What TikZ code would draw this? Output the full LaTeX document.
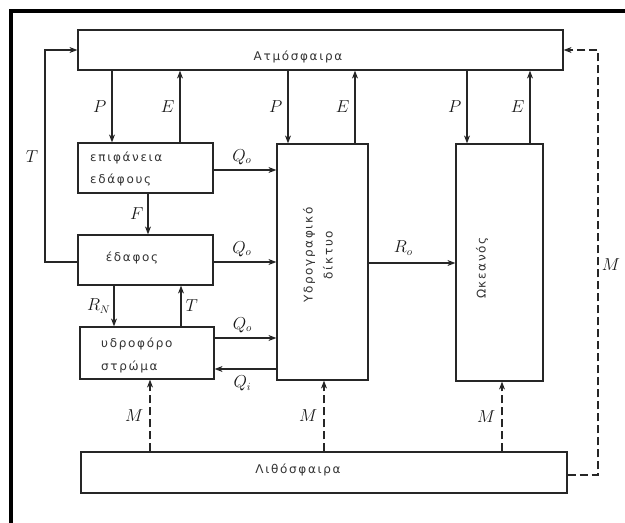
\documentclass[tikz,border=0pt]{standalone}
\usepackage{fontspec}
\usetikzlibrary{arrows.meta,calc}
\newfontfamily\grfont[LetterSpace=14]{DejaVu Sans}
\begin{document}
\begin{tikzpicture}[x=1pt,y=-1pt,
  box/.style={draw=black!85,line width=1.2pt,inner sep=0pt},
  flow/.style={draw=black!85,line width=1.2pt,-{Stealth[length=8pt,width=6pt]}},
  dflow/.style={flow,dash pattern=on 8pt off 4pt},
  gtxt/.style={font=\grfont\fontsize{12}{14}\selectfont,text=black!80,inner sep=0pt},
  lbl/.style={font=\fontsize{16}{18}\selectfont,text=black!90,inner sep=0pt}]
\useasboundingbox (0,0) rectangle (625,523);
\fill[white] (0,0) rectangle (625,523);
% frame
\draw[line width=3.5pt] (11,11) -- (625,11);
\draw[line width=3.5pt] (11,9) -- (11,523);
% boxes
\node[box,minimum width=485pt,minimum height=40pt] (atm) at (320.5,50) {};
\node[box,minimum width=135pt,minimum height=50pt] (surf) at (145.5,168) {};
\node[box,minimum width=135pt,minimum height=50pt] (soil) at (145.5,260) {};
\node[box,minimum width=134pt,minimum height=52pt] (aq) at (147,353) {};
\node[box,minimum width=91pt,minimum height=236pt] (net) at (322.5,262) {};
\node[box,minimum width=87pt,minimum height=237pt] (ocean) at (499.5,262.5) {};
\node[box,minimum width=486pt,minimum height=41pt] (lith) at (324,472.5) {};
% texts
\node[gtxt] (tatm) at (298,57) {Ατμόσφαιρα};
\node[gtxt,anchor=west] (tsurf1) at (90,158) {επιφάνεια};
\node[gtxt,anchor=west] (tsurf2) at (90,180) {εδάφους};
\node[gtxt] (tsoil) at (132,258) {έδαφος};
\node[gtxt,anchor=west] (taq1) at (101,344) {υδροφόρο};
\node[gtxt,anchor=west] (taq2) at (101,367) {στρώμα};
\node[gtxt,rotate=90,align=center] (tnet) at (318,255) {Υδρογραφικό\\[6pt]δίκτυο};
\node[gtxt,rotate=90] (toc) at (482,268) {Ωκεανός};
\node[gtxt] (tlith) at (298,470) {Λιθόσφαιρα};
% P / E
\draw[flow] (atm.south -| 112,0) -- (surf.north -| 112,0) node[lbl,pos=0.5,left=5pt] (p1) {$P$};
\draw[flow] (surf.north -| 180,0) -- (atm.south -| 180,0) node[lbl,pos=0.5,left=5pt] (e1) {$E$};
\draw[flow] (atm.south -| 288,0) -- (net.north -| 288,0) node[lbl,pos=0.5,left=5pt] (p2) {$P$};
\draw[flow] (net.north -| 355,0) -- (atm.south -| 355,0) node[lbl,pos=0.5,left=5pt] (e2) {$E$};
\draw[flow] (atm.south -| 467,0) -- (ocean.north -| 467,0) node[lbl,pos=0.5,left=5pt] (p3) {$P$};
\draw[flow] (ocean.north -| 530,0) -- (atm.south -| 530,0) node[lbl,pos=0.5,left=5pt] (e3) {$E$};
% Q
\draw[flow] (surf.east |- 0,170) -- (net.west |- 0,170) node[lbl,pos=0.45,above=5pt] (q1) {$Q_o$};
\draw[flow] (soil.east |- 0,262) -- (net.west |- 0,262) node[lbl,pos=0.45,above=5pt] (q2) {$Q_o$};
\draw[flow] (aq.east |- 0,338) -- (net.west |- 0,338) node[lbl,pos=0.45,above=5pt] (q3) {$Q_o$};
\draw[flow] (net.west |- 0,369) -- (aq.east |- 0,369) node[lbl,pos=0.55,below=6pt] (qi) {$Q_i$};
\draw[flow] (net.east |- 0,263) -- (ocean.west |- 0,263) node[lbl,pos=0.4,above=7pt] (ro) {$R_o$};
% F, R_N, T
\draw[flow] (surf.south -| 148,0) -- (soil.north -| 148,0) node[lbl,pos=0.5,left=4pt] (f) {$F$};
\draw[flow] (soil.south -| 114,0) -- (aq.north -| 114,0) node[lbl,pos=0.5,left=3pt] (rn) {$R_N$};
\draw[flow] (aq.north -| 181,0) -- (soil.south -| 181,0) node[lbl,pos=0.5,right=4pt] (t1) {$T$};
\coordinate (tl1) at (45,262);
\coordinate (tl2) at (45,50);
\draw[flow] (soil.west |- tl1) -- (tl1) -- (tl2) -- (atm.west |- tl2);
\node[lbl] (t2) at (32,157) {$T$};
% M
\draw[dflow] (lith.north -| 150,0) -- (aq.south -| 150,0) node[lbl,pos=0.5,left=6pt] (m1) {$M$};
\draw[dflow] (lith.north -| 324,0) -- (net.south -| 324,0) node[lbl,pos=0.5,left=6pt] (m2) {$M$};
\draw[dflow] (lith.north -| 502,0) -- (ocean.south -| 502,0) node[lbl,pos=0.5,left=6pt] (m3) {$M$};
\coordinate (ml1) at (598,475);
\coordinate (ml2) at (598,50);
\draw[dflow] (lith.east |- ml1) -- (ml1) -- (ml2) -- (atm.east |- ml2);
\node[lbl] (m4) at (611,265) {$M$};
\end{tikzpicture}
\end{document}
